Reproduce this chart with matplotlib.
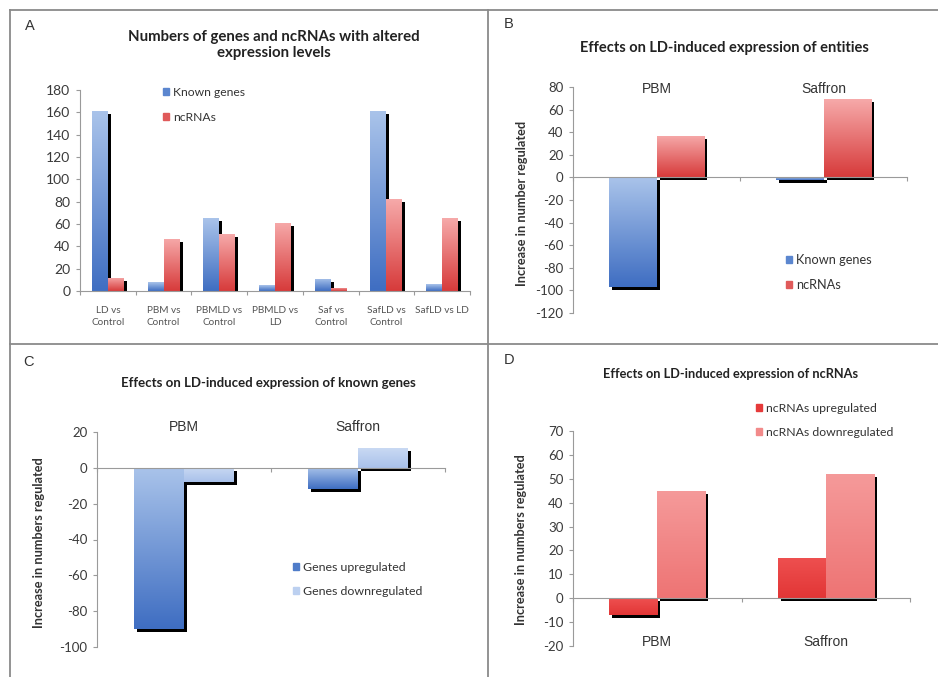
import numpy as np
import matplotlib
matplotlib.use("Agg")
import matplotlib.pyplot as plt
import matplotlib.patheffects as pe
from matplotlib.patches import Patch
from matplotlib.colors import to_rgb
from matplotlib.lines import Line2D

plt.rcParams['axes.unicode_minus'] = False
plt.rcParams['font.family'] = ['Lato', 'DejaVu Sans']

# ---------------- data ----------------
a_categories = ["LD vs\nControl", "PBM vs\nControl", "PBMLD vs\nControl", "PBMLD vs\nLD",
                "Saf vs\nControl", "SafLD vs\nControl", "SafLD vs LD"]
a_known = [161, 8, 65, 5, 11, 161, 6]
a_ncrna = [12, 47, 51, 61, 3, 82, 65]

groups = ["PBM", "Saffron"]
b_known = [-97, -2]
b_ncrna = [37, 69]

c_up = [-90, -12]
c_down = [-8, 11]

d_up = [-7, 17]
d_down = [45, 52]

# ---------------- styles ----------------
BLUE = ('#A9C3EA', '#3F6EC2')
RED = ('#F6A9A9', '#D73B3B')
LBLUE = ('#C9D9F3', '#A9C1EA')
RED_UP = ('#EE5050', '#E23636')
RED_DN = ('#F59A9A', '#EE7474')
TICKC = '#3A3A3A'
AXC = '#9A9A9A'
ARIAL = ['Liberation Sans', 'DejaVu Sans']

W, H = 938, 677
fig = plt.figure(figsize=(W / 100, H / 100), dpi=100)


def fx(px):
    return px / W


def fy(py):
    return 1 - py / H


def make_ax(x0, x1, y_top, y_bot):
    return fig.add_axes([fx(x0), fy(y_bot), fx(x1 - x0), (y_bot - y_top) / H])


def grad_bars(ax, x, vals, width, cols):
    top = np.array(to_rgb(cols[0]))
    bot = np.array(to_rgb(cols[1]))
    bars = ax.bar(x, vals, width, color=cols[1], zorder=1,
                  path_effects=[pe.SimplePatchShadow(offset=(2.2, -2.2), shadow_rgbFace='black', alpha=1),
                                pe.Normal()])
    g = np.linspace(0, 1, 64)[:, None, None]
    img = top[None, None, :] * (1 - g) + bot[None, None, :] * g
    for b in bars:
        x0, y0 = b.get_x(), b.get_y()
        bw, bh = b.get_width(), b.get_height()
        lo, hi = min(y0, y0 + bh), max(y0, y0 + bh)
        im = ax.imshow(img, extent=[x0, x0 + bw, lo, hi], origin='upper', aspect='auto',
                       zorder=1.2, interpolation='bilinear')
        im.set_clip_path(b)
    return bars


def style_ax(ax, n, ylim, yticks):
    ax.set_xlim(-0.5, n - 0.5)
    ax.set_ylim(*ylim)
    ax.set_yticks(yticks)
    ax.set_xticks(np.arange(-0.5, n, 1.0))
    ax.set_xticklabels([])
    for s in ['top', 'right']:
        ax.spines[s].set_visible(False)
    ax.spines['left'].set_color(AXC)
    ax.spines['bottom'].set_color(AXC)
    ax.spines['bottom'].set_position(('data', 0))
    ax.spines['left'].set_linewidth(0.8)
    ax.spines['bottom'].set_linewidth(0.8)
    ax.spines['bottom'].set_zorder(3)
    ax.tick_params(axis='y', colors=AXC, labelcolor=TICKC, labelsize=9.5, length=3, width=0.8, pad=4)
    ax.tick_params(axis='x', colors=AXC, length=3, width=0.8)
    ax.patch.set_alpha(0)


def add_legend(handles, px, py, fs, spacing):
    fig.legend(handles=handles, loc='upper left', bbox_to_anchor=(fx(px), fy(py)), frameon=False,
               fontsize=fs, handlelength=0.5, handleheight=0.5, handletextpad=0.3,
               labelspacing=spacing, borderpad=0, borderaxespad=0, labelcolor='#333333')


bw = 0.286

# ---------------- Panel A ----------------
axA = make_ax(80, 470, 90, 291)
xA = np.arange(len(a_categories))
grad_bars(axA, xA - bw / 2, a_known, bw, BLUE)
grad_bars(axA, xA + bw / 2, a_ncrna, bw, RED)
style_ax(axA, len(a_categories), (0, 180), np.arange(0, 181, 20))
axA.tick_params(axis='y', labelsize=10)
for i, lab in enumerate(a_categories):
    axA.text(i, -0.075, lab, transform=axA.get_xaxis_transform(), ha='center', va='top',
             fontsize=7.2, color='#555555', linespacing=1.45)
fig.text(fx(274), fy(45), "Numbers of genes and ncRNAs with altered\nexpression levels",
         ha='center', va='center', fontsize=10.8, fontweight='bold', color='#222222', linespacing=1.1)
add_legend([Patch(color='#5B86CF', label='Known genes'), Patch(color='#E05A5A', label='ncRNAs')],
           163, 87, 8.7, 1.15)

# ---------------- Panel B ----------------
axB = make_ax(573, 907, 87, 313)
xB = np.arange(len(groups))
grad_bars(axB, xB - bw / 2, b_known, bw, BLUE)
grad_bars(axB, xB + bw / 2, b_ncrna, bw, RED)
style_ax(axB, 2, (-120, 80), np.arange(-120, 81, 20))
axB.set_ylabel("Increase in number regulated", fontsize=9.2, fontweight='bold', color='#333333')
axB.yaxis.set_label_coords(-0.135, 0.487)
for i, g in enumerate(groups):
    axB.text(i, 0.99, g, transform=axB.get_xaxis_transform(), ha='center', va='center',
             fontsize=10, color='#333333', family=ARIAL)
fig.text(fx(724), fy(48), "Effects on LD-induced expression of entities", ha='center', va='center',
         fontsize=10.5, fontweight='bold', color='#222222')
add_legend([Patch(color='#5B86CF', label='Known genes'), Patch(color='#E05A5A', label='ncRNAs')],
           786, 254, 9.2, 1.0)

# ---------------- Panel C ----------------
axC = make_ax(97, 445, 432, 647)
grad_bars(axC, xB - bw / 2, c_up, bw, BLUE)
grad_bars(axC, xB + bw / 2, c_down, bw, LBLUE)
style_ax(axC, 2, (-100, 20), np.arange(-100, 21, 20))
axC.set_ylabel("Increase in numbers regulated", fontsize=9.2, fontweight='bold', color='#333333')
axC.yaxis.set_label_coords(-0.149, 0.484)
for i, g in enumerate(groups):
    axC.text(i, 1.023, g, transform=axC.get_xaxis_transform(), ha='center', va='center',
             fontsize=10, color='#333333', family=ARIAL)
fig.text(fx(268), fy(383), "Effects on LD-induced expression of known genes", ha='center', va='center',
         fontsize=9.5, fontweight='bold', color='#222222')
add_legend([Patch(color='#4F7CC9', label='Genes upregulated'),
            Patch(color='#BCD0F0', label='Genes downregulated')],
           293, 562, 8.9, 1.05)

# ---------------- Panel D ----------------
axD = make_ax(573, 910, 431, 646)
grad_bars(axD, xB - bw / 2, d_up, bw, RED_UP)
grad_bars(axD, xB + bw / 2, d_down, bw, RED_DN)
style_ax(axD, 2, (-20, 70), np.arange(-20, 71, 10))
axD.set_ylabel("Increase in numbers regulated", fontsize=9.2, fontweight='bold', color='#333333')
axD.yaxis.set_label_coords(-0.136, 0.493)
for i, g in enumerate(groups):
    axD.text(i, 0.02, g, transform=axD.get_xaxis_transform(), ha='center', va='center',
             fontsize=10, color='#333333', family=ARIAL)
fig.text(fx(731), fy(374), "Effects on LD-induced expression of ncRNAs", ha='center', va='center',
         fontsize=9.2, fontweight='bold', color='#222222')
add_legend([Patch(color='#E63A3A', label='ncRNAs upregulated'),
            Patch(color='#F28A8A', label='ncRNAs downregulated')],
           756, 403, 8.8, 1.05)

# ---------------- panel letters & frame ----------------
for lab, (px, py) in {"A": (30, 26), "B": (509, 24), "C": (28, 362), "D": (509, 360)}.items():
    fig.text(fx(px), fy(py), lab, ha='center', va='center', fontsize=10.5, color='#333333',
             family=ARIAL)

lc = '#8A8A8A'
fig.add_artist(Line2D([fx(10), 1], [fy(10), fy(10)], color=lc, lw=1.3))
fig.add_artist(Line2D([fx(10), fx(10)], [0, fy(10)], color=lc, lw=1.3))
fig.add_artist(Line2D([fx(488), fx(488)], [0, fy(10)], color=lc, lw=1.3))
fig.add_artist(Line2D([fx(10), 1], [fy(344), fy(344)], color=lc, lw=1.3))

fig.savefig("out.png", dpi=100)
